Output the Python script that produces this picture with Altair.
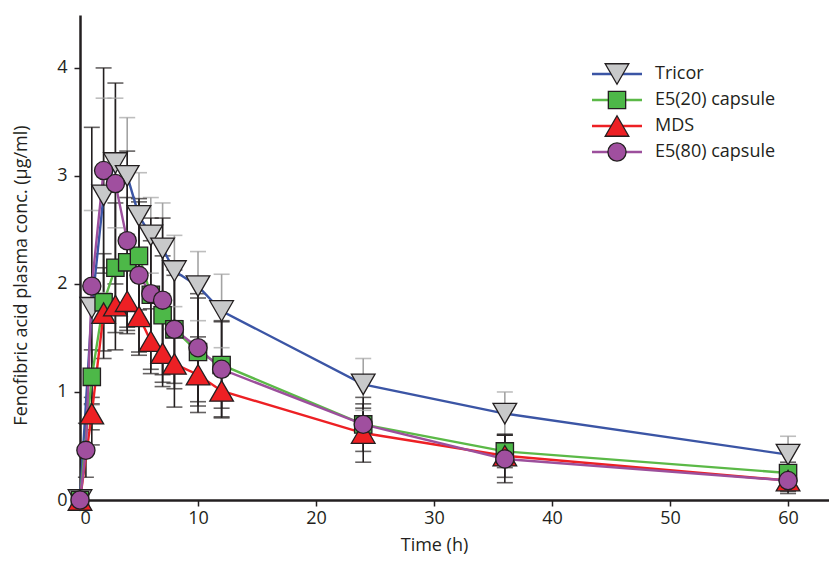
import altair as alt
import pandas as pd

# ---------------- data ----------------
series_names = ["Tricor", "E5(20) capsule", "MDS", "E5(80) capsule"]

tricor_t = [0, 1, 2, 3, 4, 5, 6, 7, 8, 10, 12, 24, 36, 60]
tricor_mean = [0, 1.78, 2.82, 3.12, 3.00, 2.63, 2.45, 2.33, 2.12, 1.98, 1.75, 1.07, 0.80, 0.42]
tricor_sd = [0, 0.90, 0.90, 0.60, 0.54, 0.40, 0.35, 0.42, 0.33, 0.32, 0.34, 0.24, 0.20, 0.17]

e520_t = [0, 1, 2, 3, 4, 5, 6, 7, 8, 10, 12, 24, 36, 60]
e520_mean = [0, 1.14, 1.83, 2.15, 2.20, 2.26, 1.90, 1.71, 1.58, 1.37, 1.25, 0.70, 0.45, 0.25]
e520_sd = [0, 0.25, 0.45, 0.60, 0.60, 0.50, 0.50, 0.55, 0.50, 0.50, 0.40, 0.15, 0.15, 0.10]

mds_t = [0, 1, 2, 3, 4, 5, 6, 7, 8, 10, 12, 24, 36, 60]
mds_mean = [0, 0.80, 1.73, 1.80, 1.84, 1.70, 1.47, 1.36, 1.26, 1.16, 1.01, 0.62, 0.41, 0.18]
mds_sd = [0, 0.15, 0.42, 0.41, 0.30, 0.36, 0.30, 0.31, 0.40, 0.35, 0.24, 0.27, 0.20, 0.12]

e580_t = [0, 0.5, 1, 2, 3, 4, 5, 6, 7, 8, 10, 12, 24, 36, 60]
e580_mean = [0, 0.46, 1.98, 3.05, 2.93, 2.40, 2.08, 1.91, 1.85, 1.58, 1.41, 1.21, 0.70, 0.38, 0.18]
e580_sd = [0, 0.25, 1.47, 0.95, 0.93, 0.83, 0.71, 0.70, 0.76, 0.55, 0.50, 0.45, 0.25, 0.22, 0.10]

x_ticks = [0, 10, 20, 30, 40, 50, 60]
y_ticks = [0, 1, 2, 3, 4]

# ---------------- styles ----------------
line_colors = ["#3b55a5", "#5bb947", "#ed2024", "#9c4f9c"]
fill_colors = ["#c8c9ca", "#4db848", "#ed2024", "#a04f9f"]
shapes = ["triangle-down", "square", "triangle-up", "circle"]
marker_sizes = [560, 300, 560, 330]
bar_colors = ["#a3a3a3", "#231f20", "#231f20", "#231f20"]
INK = "#231f20"
FONT = "Open Sans"

all_t = [tricor_t, e520_t, mds_t, e580_t]
all_mean = [tricor_mean, e520_mean, mds_mean, e580_mean]
all_sd = [tricor_sd, e520_sd, mds_sd, e580_sd]

rows = []
for i, name in enumerate(series_names):
    for t, m, s in zip(all_t[i], all_mean[i], all_sd[i]):
        rows.append({
            "series": name, "order": i, "t": t, "mean": m, "sd": s,
            "lo": max(m - s, 0), "hi": m + s,
            "line_color": line_colors[i], "fill": fill_colors[i],
            "shape": shapes[i], "size": marker_sizes[i], "bar_color": bar_colors[i],
        })
df = pd.DataFrame(rows)

legend_df = pd.DataFrame({
    "series": series_names,
    "line_color": line_colors,
    "fill": fill_colors,
    "shape": shapes,
    "size": marker_sizes,
})

x_scale = alt.Scale(domain=[0, 63.47], nice=False, zero=False)
y_scale = alt.Scale(domain=[0, 4.49], nice=False)

X = alt.X("t:Q", scale=x_scale,
          axis=alt.Axis(values=x_ticks, format="d", title="Time (h)", labelPadding=3,
                        titleX=354, titleY=50, titleBaseline="alphabetic"))
Y = alt.Y("mean:Q", scale=y_scale,
          axis=alt.Axis(values=y_ticks, format="d", labelPadding=7,
                        title="Fenofibric acid plasma conc. (\u03bcg/ml)",
                        titleX=-54, titleY=260, titleBaseline="alphabetic"))

base = alt.Chart(df)

err = base.transform_filter("datum.sd > 0").mark_rule(strokeWidth=1.6).encode(
    x=X, y=alt.Y("lo:Q", scale=y_scale), y2="hi:Q",
    color=alt.Color("bar_color:N", scale=None),
)
cap_lo = base.transform_filter("datum.sd > 0").mark_tick(
    orient="horizontal", size=16, thickness=1.6).encode(
    x=X, y=alt.Y("lo:Q", scale=y_scale),
    color=alt.Color("bar_color:N", scale=None),
)
cap_hi = base.transform_filter("datum.sd > 0").mark_tick(
    orient="horizontal", size=16, thickness=1.6).encode(
    x=X, y=alt.Y("hi:Q", scale=y_scale),
    color=alt.Color("bar_color:N", scale=None),
)
lines = base.mark_line(strokeWidth=2.4).encode(
    x=X, y=Y,
    color=alt.Color("line_color:N", scale=None),
    detail="series:N",
    order="t:Q",
)
points = base.mark_point(filled=True, stroke=INK, strokeWidth=1.3, opacity=1).encode(
    x=X, y=Y,
    shape=alt.Shape("shape:N", scale=None),
    fill=alt.Fill("fill:N", scale=None),
    size=alt.Size("size:Q", scale=None),
    order="order:Q",
)

main = alt.layer(err, cap_lo, cap_hi, lines, points)

LY = alt.Y("series:N", sort=series_names,
           scale=alt.Scale(type="point", range=[59, 137], padding=0), axis=None)
lbase = alt.Chart(legend_df)
leg_rule = lbase.mark_rule(strokeWidth=2.6).encode(
    x=alt.value(512), x2=alt.value(562), y=LY,
    color=alt.Color("line_color:N", scale=None),
)
leg_pt = lbase.mark_point(filled=True, stroke=INK, strokeWidth=1.3, opacity=1).encode(
    x=alt.value(537), y=LY,
    shape=alt.Shape("shape:N", scale=None),
    fill=alt.Fill("fill:N", scale=None),
    size=alt.Size("size:Q", scale=None),
)
leg_txt = lbase.mark_text(align="left", baseline="middle", fontSize=18, font=FONT,
                          color=INK).encode(
    x=alt.value(575), y=LY, text="series:N",
)
legend = alt.layer(leg_rule, leg_pt, leg_txt)

chart = alt.layer(main, legend).resolve_scale(y="independent").properties(
    width=749, height=485,
    autosize=alt.AutoSizeParams(type="none"),
    padding={"left": 72, "top": 7, "right": 0, "bottom": 55},
).configure_view(stroke=None).configure_axis(
    grid=False, domainColor=INK, domainWidth=2.5, tickColor=INK, tickWidth=1.5,
    tickSize=6, labelFont=FONT, labelFontSize=18, labelColor=INK,
    titleFont=FONT, titleFontSize=18, titleFontWeight="normal", titleColor=INK,
)

chart.save("out.html", embed_options={"renderer": "svg", "actions": False})
